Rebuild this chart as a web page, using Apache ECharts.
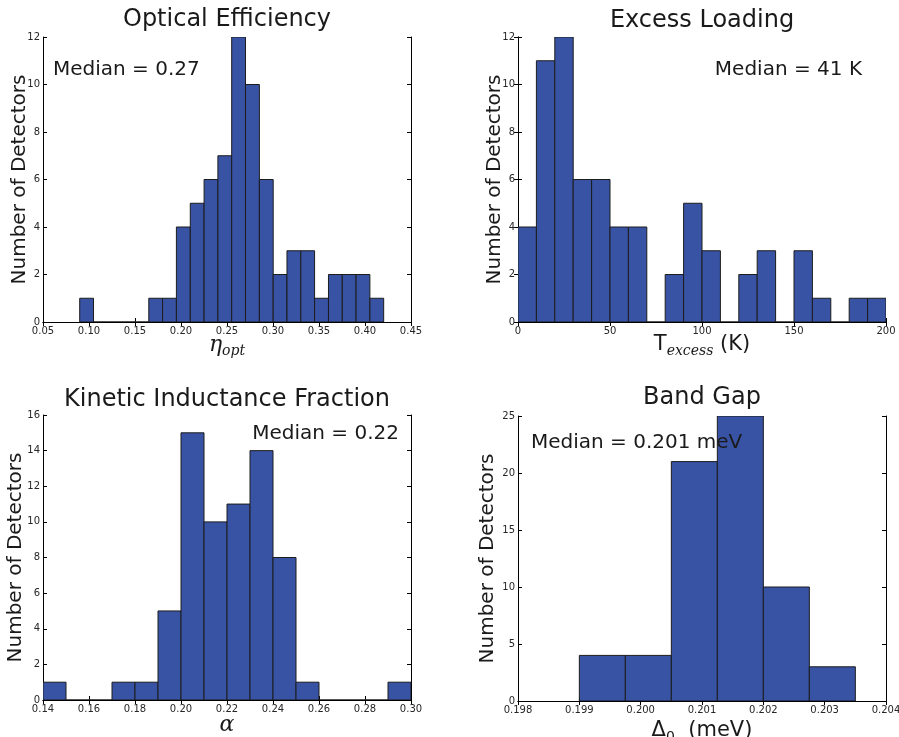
<!DOCTYPE html>
<html>
<head>
<meta charset="utf-8">
<script src="https://cdn.jsdelivr.net/npm/echarts@6/dist/echarts.min.js"></script>
<style>
  html, body { margin: 0; padding: 0; background: #fff; }
  #chart { width: 899px; height: 737px; }
</style>
</head>
<body>
<div id="chart"></div>
<script>
// bin edges and counts
const opticalEdges = [0.0899, 0.1049, 0.1200, 0.1350, 0.1500, 0.1650, 0.1800, 0.1950, 0.2101, 0.2251, 0.2401,
  0.2551, 0.2701, 0.2852, 0.3002, 0.3152, 0.3302, 0.3452, 0.3603, 0.3753, 0.3903, 0.4053, 0.4203];
const opticalCounts = [1, 0, 0, 0, 0, 1, 1, 4, 5, 6, 7, 12, 10, 6, 2, 3, 3, 1, 2, 2, 2, 1];

const excessEdges = [0, 10, 20, 30, 40, 50, 60, 70, 80, 90, 100, 110, 120, 130, 140, 150, 160, 170, 180, 190, 200];
const excessCounts = [4, 11, 12, 6, 6, 4, 4, 0, 2, 5, 3, 0, 2, 3, 0, 3, 1, 0, 1, 1];

const alphaEdges = [0.14, 0.15, 0.16, 0.17, 0.18, 0.19, 0.20, 0.21, 0.22, 0.23, 0.24, 0.25, 0.26, 0.27, 0.28, 0.29, 0.30];
const alphaCounts = [1, 0, 0, 1, 1, 5, 15, 10, 11, 14, 8, 1, 0, 0, 0, 1];

const gapEdges = [0.199, 0.19975, 0.2005, 0.20125, 0.202, 0.20275, 0.2035];
const gapCounts = [4, 4, 21, 25, 10, 3];

const titles = ['Optical Efficiency', 'Excess Loading', 'Kinetic Inductance Fraction', 'Band Gap'];
const medians = ['Median = 0.27', 'Median = 41 K', 'Median = 0.22', 'Median = 0.201 meV'];

const BAR = '#3953a4';
const INK = '#1a1a1a';
const FONT = '"DejaVu Sans", sans-serif';

function histData(edges, counts) {
  return counts.map((c, i) => [edges[i], edges[i + 1], c]);
}

// one entry per subplot
const panels = [
  { grid: { left: 43, top: 37, width: 368, height: 285 }, data: histData(opticalEdges, opticalCounts),
    xmin: 0.05, xmax: 0.45, xint: 0.05, xdec: 2, ymax: 12, yint: 2,
    xname: '{m|η}{s|opt}', xgap: 10, ygap: 13 },
  { grid: { left: 518, top: 37, width: 368, height: 285 }, data: histData(excessEdges, excessCounts),
    xmin: 0, xmax: 200, xint: 50, xdec: 0, ymax: 12, yint: 2,
    xname: '{r|T}{s|excess}{r| (K)}', xgap: 10, ygap: 13 },
  { grid: { left: 43, top: 415, width: 368, height: 285 }, data: histData(alphaEdges, alphaCounts),
    xmin: 0.14, xmax: 0.30, xint: 0.02, xdec: 2, ymax: 16, yint: 2,
    xname: '{m|α}', xgap: 14, ygap: 17 },
  { grid: { left: 518, top: 416, width: 368, height: 285 }, data: histData(gapEdges, gapCounts),
    xmin: 0.198, xmax: 0.204, xint: 0.001, xdec: 3, ymax: 25, yint: 5,
    xname: '{r|Δ}{s0|0}{r|  (meV)}', xgap: 17, ygap: 20 }
];

const rich = {
  m: { fontFamily: '"DejaVu Serif", serif', fontStyle: 'italic', fontSize: 22, color: INK },
  r: { fontFamily: FONT, fontSize: 21, color: INK },
  s: { fontFamily: '"DejaVu Serif", serif', fontStyle: 'italic', fontSize: 14, color: INK, padding: [12, 0, 0, 0] },
  s0: { fontFamily: FONT, fontSize: 14, color: INK, padding: [12, 0, 0, 0] }
};

const grids = [], xAxes = [], yAxes = [], series = [];
panels.forEach((p, i) => {
  grids.push(Object.assign({ outerBoundsMode: 'none', containLabel: false }, p.grid));
  const tick = { show: true, inside: true, length: 4, lineStyle: { color: '#000' } };
  const line = { show: true, lineStyle: { color: '#000', width: 1 } };
  xAxes.push({
    type: 'value', gridIndex: i, position: 'bottom', min: p.xmin, max: p.xmax, interval: p.xint,
    axisLine: line, axisTick: tick, splitLine: { show: false },
    axisLabel: { fontFamily: FONT, fontSize: 10, color: '#262626', margin: 4,
      formatter: v => v.toFixed(p.xdec) },
    name: p.xname, nameLocation: 'middle', nameGap: p.xgap, nameMoveOverlap: false,
    nameTextStyle: { rich: rich }
  });
  xAxes.push({
    type: 'value', gridIndex: i, position: 'top', min: p.xmin, max: p.xmax, interval: p.xint,
    axisLine: line, axisTick: tick, splitLine: { show: false }, axisLabel: { show: false }
  });
  yAxes.push({
    type: 'value', gridIndex: i, position: 'left', min: 0, max: p.ymax, interval: p.yint,
    axisLine: line, axisTick: tick, splitLine: { show: false },
    axisLabel: { fontFamily: FONT, fontSize: 10, color: '#262626', margin: 3 },
    name: 'Number of Detectors', nameLocation: 'middle', nameRotate: 90, nameGap: p.ygap,
    nameMoveOverlap: false,
    nameTextStyle: { fontFamily: FONT, fontSize: 20, color: INK }
  });
  yAxes.push({
    type: 'value', gridIndex: i, position: 'right', min: 0, max: p.ymax, interval: p.yint,
    axisLine: line, axisTick: tick, splitLine: { show: false }, axisLabel: { show: false }
  });
  series.push({
    type: 'custom', xAxisIndex: 2 * i, yAxisIndex: 2 * i, data: p.data,
    encode: { x: [0, 1], y: 2 }, clip: true,
    renderItem: (params, api) => {
      const a = api.coord([api.value(0), api.value(2)]);
      const b = api.coord([api.value(1), 0]);
      return {
        type: 'rect',
        shape: { x: a[0], y: a[1], width: b[0] - a[0], height: b[1] - a[1] },
        style: { fill: BAR, stroke: '#1c1c1c', lineWidth: 1 }
      };
    }
  });
});

// titles and median notes
const titlePos = [[227, 20], [702, 21], [227, 400], [702, 398]];
const medPos = [[53, 70, 'left'], [862, 70, 'right'], [399, 434, 'right'], [531, 443, 'left']];
const graphic = [];
titles.forEach((t, i) => graphic.push({
  type: 'text', x: titlePos[i][0], y: titlePos[i][1], z: 100,
  style: { text: t, font: '24px ' + FONT, fill: INK, align: 'center', verticalAlign: 'middle' }
}));
medians.forEach((t, i) => graphic.push({
  type: 'text', x: medPos[i][0], y: medPos[i][1], z: 100,
  style: { text: t, font: '20px ' + FONT, fill: INK, align: medPos[i][2], verticalAlign: 'middle' }
}));

const chart = echarts.init(document.getElementById('chart'));
chart.setOption({
  backgroundColor: '#fff',
  animation: false,
  grid: grids,
  xAxis: xAxes,
  yAxis: yAxes,
  series: series,
  graphic: graphic
});
</script>
</body>
</html>
